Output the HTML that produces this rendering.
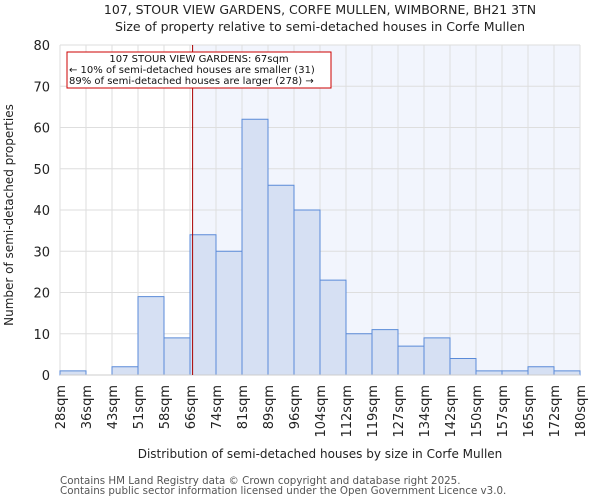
<!DOCTYPE html>
<html><head><meta charset="utf-8"><style>
body{margin:0;background:#fff;font-family:"DejaVu Sans","Liberation Sans",sans-serif}
svg text{font-family:"DejaVu Sans","Liberation Sans",sans-serif}
</style></head><body>
<svg id="chart" width="600" height="500" xmlns="http://www.w3.org/2000/svg">
<text x="320" y="14" font-size="12.5" text-anchor="middle" fill="#222">107, STOUR VIEW GARDENS, CORFE MULLEN, WIMBORNE, BH21 3TN</text>
<text x="320" y="31" font-size="12.5" text-anchor="middle" fill="#222">Size of property relative to semi-detached houses in Corfe Mullen</text>
<g id="grid"></g><g id="bars"></g><g id="axes"></g>
<text transform="translate(13,215) rotate(-90)" font-size="12" text-anchor="middle" fill="#222">Number of semi-detached properties</text>
<text x="320" y="458" font-size="12" text-anchor="middle" fill="#222">Distribution of semi-detached houses by size in Corfe Mullen</text>
<text x="60" y="484" font-size="10.3" fill="#555">Contains HM Land Registry data © Crown copyright and database right 2025.</text>
<text x="60" y="494" font-size="10.3" fill="#555">Contains public sector information licensed under the Open Government Licence v3.0.</text>
</svg>
<script>
const binLabels=["28sqm","36sqm","43sqm","51sqm","58sqm","66sqm","74sqm","81sqm","89sqm","96sqm","104sqm","112sqm","119sqm","127sqm","134sqm","142sqm","150sqm","157sqm","165sqm","172sqm","180sqm"];
const counts=[1,0,2,19,9,34,30,62,46,40,23,10,11,7,9,4,1,1,2,1];
const yTicks=[0,10,20,30,40,50,60,70,80];
const propertyBinPos=5.1;
const NS="http://www.w3.org/2000/svg";
const X0=60,X1=580,Y0=375,Y1=45,YMAX=80;
const bw=(X1-X0)/counts.length;
const xs=i=>X0+i*bw;
const ys=v=>Y0-(v/YMAX)*(Y0-Y1);
function mk(t,a,p){const e=document.createElementNS(NS,t);for(const k in a)e.setAttribute(k,a[k]);p.appendChild(e);return e;}
const grid=document.getElementById('grid'),bars=document.getElementById('bars'),axes=document.getElementById('axes');
const px=xs(propertyBinPos);
let hl=mk('rect',{x:px,y:Y1,width:X1-px,height:Y0-Y1,fill:'#f2f5fd'},grid);


for(let i=0;i<=counts.length;i++){let l=mk('line',{x1:xs(i),x2:xs(i),y1:Y1,y2:Y0,stroke:'#dedede','stroke-width':1},grid);

}
yTicks.forEach(v=>{let l=mk('line',{x1:X0,x2:X1,y1:ys(v),y2:ys(v),stroke:'#dedede','stroke-width':1},grid);


let t=mk('text',{x:50,y:ys(v)+5,'font-size':13,'text-anchor':'end',fill:'#222'},axes);t.textContent=v;

});
counts.forEach((c,i)=>{if(c<=0)return;let r=mk('rect',{x:xs(i),y:ys(c),width:bw,height:Y0-ys(c),fill:'#d6e0f3',stroke:'#5a8ad8','stroke-width':1},bars);

});
binLabels.forEach((s,i)=>{let t=mk('text',{transform:`translate(${xs(i)+5},385) rotate(-90)`,'font-size':13,'text-anchor':'end',fill:'#222'},axes);t.textContent=s;

});
let ax=mk('line',{x1:X0,x2:X1,y1:Y0,y2:Y0,stroke:'#ccc','stroke-width':1},axes);


let pl=mk('line',{x1:px,x2:px,y1:Y1,y2:Y0,stroke:'#aa0000','stroke-width':1},axes);


let box=mk('rect',{x:67,y:52,width:264,height:36,fill:'#fff',stroke:'#cc0000','stroke-width':1},axes);


[["107 STOUR VIEW GARDENS: 67sqm",199,62,'middle'],["← 10% of semi-detached houses are smaller (31)",69,73,'start'],["89% of semi-detached houses are larger (278) →",69,84,'start']].forEach(([s,x,y,a])=>{let t=mk('text',{x:x,y:y,'font-size':10,'text-anchor':a,fill:'#111'},axes);t.textContent=s;

});
</script>
</body></html>
